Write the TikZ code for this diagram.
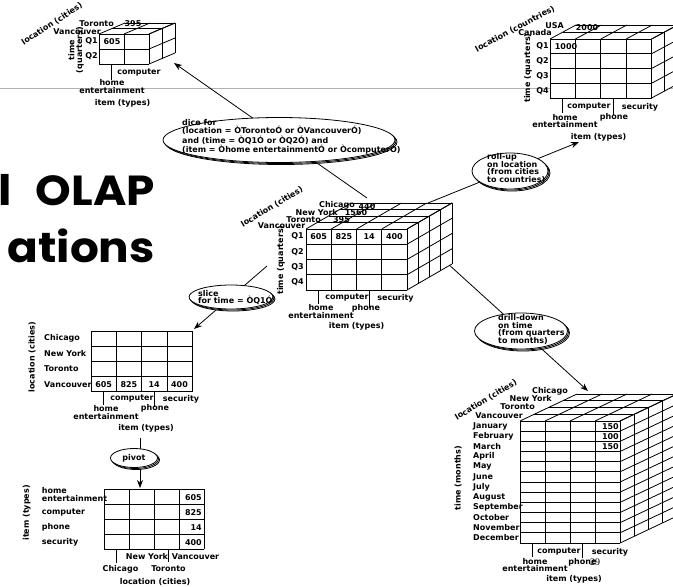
\documentclass[tikz,border=0pt]{standalone}
\usepackage{fontspec}
\setmainfont{DejaVu Sans}
\newfontfamily\titlefont{Poppins}[FakeStretch=1.08]
\newfontfamily\pagefont{Liberation Serif}
\usetikzlibrary{arrows.meta,shapes.geometric,shadows}

% front top-left (#1,#2), cell #3 x #4, #5 cols, #6 rows, #7 layers, layer shift (#8,-#9)
\newcommand{\olapcube}[9]{%
  \fill[white] (#1,#2+#6*#4) -- (#1,#2) -- ++(#7*#8,-#7*#9) -- ++(#5*#3,0) -- ++(0,#6*#4) -- (#1+#5*#3,#2+#6*#4) -- cycle;
  \foreach \i in {0,...,#5} {
    \draw[cubeline] (#1+\i*#3,#2) -- ++(0,#6*#4);
    \draw[cubeline] (#1+\i*#3,#2) -- ++(#7*#8,-#7*#9);
  }
  \foreach \j in {0,...,#6} {
    \draw[cubeline] (#1,#2+\j*#4) -- ++(#5*#3,0);
    \draw[cubeline] (#1+#5*#3,#2+\j*#4) -- ++(#7*#8,-#7*#9);
  }
  \foreach \k in {1,...,#7} {
    \draw[cubeline] (#1+\k*#8,#2-\k*#9) -- ++(#5*#3,0);
    \draw[cubeline] (#1+#5*#3+\k*#8,#2-\k*#9) -- ++(0,#6*#4);
  }
}
% flat table: top-left (#1,#2), cell #3 x #4, #5 cols, #6 rows
\newcommand{\olapgrid}[6]{%
  \fill[white] (#1,#2) rectangle ++(#5*#3,#6*#4);
  \foreach \i in {0,...,#5} \draw[cubeline] (#1+\i*#3,#2) -- ++(0,#6*#4);
  \foreach \j in {0,...,#6} \draw[cubeline] (#1,#2+\j*#4) -- ++(#5*#3,0);
}

\tikzset{
  cubeline/.style={line width=0.8pt},
  lbl/.style={font=\bfseries\fontsize{8}{7.8}\selectfont, inner sep=0pt},
  optext/.style={lbl, align=left, anchor=west},
  opbubble/.style={ellipse, draw, fill=white, line width=0.8pt, inner sep=0pt,
    general shadow={shadow xshift=2pt, shadow yshift=-2pt, draw, fill=white},
    general shadow={shadow xshift=1pt, shadow yshift=-1pt, draw, fill=white}},
  oparrow/.style={line width=0.8pt, -{Stealth[length=8pt,width=6pt]}},
  titletext/.style={font=\titlefont\bfseries\fontsize{42}{42}\selectfont, inner sep=0pt}
}

\begin{document}
\begin{tikzpicture}[x=1pt, y=-1pt]
\useasboundingbox (0,0) rectangle (673,587);
\fill[white] (0,0) rectangle (673,587);
\clip (0,0) rectangle (673,587);

% slide rule and cut title
\draw[gray!60, line width=0.8pt] (0,88) -- (673,88);
\node[titletext, anchor=base east] (titleA) at (155,205) {l\hskip 24pt OLAP};
\node[titletext, anchor=base east] (titleB) at (155,262) {ations};

% connectors (under the bubbles)
\coordinate (dicefrom) at (367,198);
\coordinate (diceto) at (174,63);
\coordinate (rollfrom) at (428,203);
\coordinate (rollto) at (579,142);
\coordinate (slicefrom) at (267,266);
\coordinate (sliceto) at (194,329);
\coordinate (drillfrom) at (447,263);
\coordinate (drillto) at (588,391);
\coordinate (pivotfrom) at (140,438);
\coordinate (pivotto) at (140,488);
\draw[oparrow] (dicefrom) -- (diceto);
\draw[oparrow] (rollfrom) -- (rollto);
\draw[oparrow] (slicefrom) -- (sliceto);
\draw[oparrow] (drillfrom) -- (drillto);
\draw[oparrow] (pivotfrom) -- (pivotto);

% diced cube
\olapcube{99}{34}{25}{15}{2}{2}{2}{13}{5.5}
\node[lbl, anchor=east] (dcTor) at (114,24) {Toronto};
\node[lbl] (dc395) at (133,24) {395};
\node[lbl, anchor=east] (dcVan) at (101,31.5) {Vancouver};
\node[lbl, anchor=east] (dcQ1) at (98,41.5) {Q1};
\node[lbl, anchor=east] (dcQ2) at (98,56.5) {Q2};
\node[lbl] (dc605) at (112,41.5) {605};
\node[lbl, rotate=90, align=center] (dcTime) at (76,50) {time\\(quarters)};
\node[lbl, rotate=33] (dcLoc) at (52,24) {location (cities)};
\draw[cubeline] (111.5,64) -- (111.5,80);
\node[lbl] (dcComp) at (139,73) {computer};
\node[lbl, align=center] (dcHome) at (112,86.5) {home\\entertainment};
\node[lbl] (dcItem) at (122.5,103) {item (types)};

% rolled-up cube
\olapcube{550}{39}{25.4}{14.75}{4}{4}{2}{13}{7}
\node[lbl, anchor=east] (ruUSA) at (564,26) {USA};
\node[lbl] (ru2000) at (587,28) {2000};
\node[lbl, anchor=east] (ruCan) at (552,33) {Canada};
\foreach \q [count=\j from 0] in {Q1,Q2,Q3,Q4}
  \node[lbl, anchor=east] (ruQ\j) at (549,46.4+\j*14.75) {\q};
\node[lbl] (ru1000) at (566,46.4) {1000};
\node[lbl, rotate=90] (ruTime) at (528,68) {time (quarters)};
\node[lbl, rotate=28] (ruLoc) at (515,29) {location (countries)};
\draw[cubeline] (562.7,98) -- (562.7,113);
\draw[cubeline] (613.5,98) -- (613.5,115);
\node[lbl] (ruComp) at (589,107) {computer};
\node[lbl] (ruSec) at (640,107) {security};
\node[lbl, align=center] (ruHome) at (565,121) {home\\entertainment};
\node[lbl] (ruPhone) at (614,117) {phone};
\node[lbl] (ruItem) at (598.5,137) {item (types)};

% central cube
\olapcube{306}{229}{25.25}{15.25}{4}{4}{4}{11.25}{6.5}
\node[lbl, anchor=east] (mcChi) at (355,205.5) {Chicago};
\node[lbl, anchor=east] (mcNY) at (338,212.5) {New York};
\node[lbl, anchor=east] (mcTor) at (321,219.5) {Toronto};
\node[lbl, anchor=east] (mcVan) at (305.5,226) {Vancouver};
\node[lbl] (mc440) at (367,206.5) {440};
\node[lbl] (mc1560) at (356,212.5) {1560};
\node[lbl] (mc395) at (341.5,219.5) {395};
\foreach \q [count=\j from 0] in {Q1,Q2,Q3,Q4}
  \node[lbl, anchor=east] (mcQ\j) at (304,236.6+\j*15.25) {\q};
\foreach \v [count=\i from 0] in {605,825,14,400}
  \node[lbl] (mcV\i) at (318.6+\i*25.25,236.6) {\v};
\node[lbl, rotate=90] (mcTime) at (281,260) {time (quarters)};
\node[lbl, rotate=31] (mcLoc) at (272,207) {location (cities)};
\draw[cubeline] (318.6,290) -- (318.6,303.5);
\draw[cubeline] (369.1,290) -- (369.1,308);
\node[lbl] (mcComp) at (347,298) {computer};
\node[lbl] (mcSec) at (395.5,298) {security};
\node[lbl, align=center] (mcHome) at (321,311.5) {home\\entertainment};
\node[lbl] (mcPhone) at (366,308) {phone};
\node[lbl] (mcItem) at (356.5,326) {item (types)};

% drilled-down cube
\olapcube{520}{421}{25}{10.17}{4}{12}{4}{14.25}{6.75}
\node[lbl, anchor=east] (ddChi) at (568,391) {Chicago};
\node[lbl, anchor=east] (ddNY) at (552,399) {New York};
\node[lbl, anchor=east] (ddTor) at (535,407) {Toronto};
\node[lbl, anchor=east] (ddVan) at (523,416) {Vancouver};
\foreach \m [count=\j from 0] in {January,February,March,April,May,June,July,August,September,October,November,December}
  \node[lbl, anchor=west] (ddM\j) at (473,426.1+\j*10.17) {\m};
\foreach \v [count=\j from 0] in {150,100,150}
  \node[lbl, anchor=east] (ddV\j) at (619,426.1+\j*10.17) {\v};
\node[lbl, rotate=90] (ddTime) at (458,478) {time (months)};
\node[lbl, rotate=31] (ddLoc) at (486,400) {location (cities)};
\draw[cubeline] (532.5,543) -- (532.5,557);
\draw[cubeline] (582.5,543) -- (582.5,558);
\node[lbl] (ddComp) at (559,552) {computer};
\node[lbl] (ddSec) at (610,552) {security};
\node[lbl, align=center] (ddHome) at (535,565) {home\\entertainment};
\node[lbl] (ddPhone) at (582.5,562) {phone};
\node[font=\pagefont\fontsize{10}{10}\selectfont, inner sep=0pt] (pagenum) at (595,562) {29};
\node[lbl] (ddItem) at (574,579) {item (types)};

% slice table
\olapgrid{91}{331}{25.3}{15.2}{4}{4}
\foreach \c [count=\j from 0] in {Chicago,New York,Toronto,Vancouver}
  \node[lbl, anchor=west] (slR\j) at (44,338.6+\j*15.2) {\c};
\foreach \v [count=\i from 0] in {605,825,14,400}
  \node[lbl] (slV\i) at (103.6+\i*25.3,384.2) {\v};
\node[lbl, rotate=90] (slLoc) at (32,357) {location (cities)};
\draw[cubeline] (103.6,392) -- (103.6,405);
\draw[cubeline] (154.2,392) -- (154.2,407);
\node[lbl] (slComp) at (132,399) {computer};
\node[lbl] (slSec) at (181,399) {security};
\node[lbl, align=center] (slHome) at (106,412.5) {home\\entertainment};
\node[lbl] (slPhone) at (155,408) {phone};
\node[lbl] (slItem) at (146,428) {item (types)};

% pivoted table
\olapgrid{104}{489.3}{25}{15}{4}{4}
\node[lbl, anchor=west, align=left] (pvR0) at (41.7,494.5) {home\\entertainment};
\node[lbl, anchor=west] (pvR1) at (41.7,512.3) {computer};
\node[lbl, anchor=west] (pvR2) at (41.7,527.3) {phone};
\node[lbl, anchor=west] (pvR3) at (41.7,542.3) {security};
\foreach \v [count=\j from 0] in {605,825,14,400}
  \node[lbl, anchor=east] (pvV\j) at (202,497.3+\j*15) {\v};
\node[lbl, rotate=90] (pvItem) at (26.7,513) {item (types)};
\draw[cubeline] (116.5,549.3) -- (116.5,563);
\draw[cubeline] (168,549.3) -- (168,562);
\node[lbl] (pvNY) at (147,557) {New York};
\node[lbl] (pvVan) at (195.5,557) {Vancouver};
\node[lbl] (pvChi) at (120.5,569) {Chicago};
\node[lbl] (pvTor) at (168.5,569) {Toronto};
\node[lbl] (pvLoc) at (155,582) {location (cities)};

% operation bubbles
\node[opbubble, minimum width=232pt, minimum height=45pt] (dice) at (279,140) {};
\node[optext] (dicetext) at (182,137) {dice for\\(location = ÒTorontoÓ or ÒVancouverÓ)\\and (time = ÒQ1Ó or ÒQ2Ó) and\\(item = Òhome entertainmentÓ or ÒcomputerÓ)};
\node[opbubble, minimum width=76pt, minimum height=36pt] (rollup) at (510,171) {};
\node[optext] (rolluptext) at (487,168.5) {roll-up\\on location\\(from cities\\to countries)};
\node[opbubble, minimum width=84pt, minimum height=24pt] (slice) at (231,297) {};
\node[optext] (slicetext) at (198,297.5) {slice\\for time = ÒQ1Ó};
\node[opbubble, minimum width=93pt, minimum height=36pt] (drill) at (521,331) {};
\node[optext] (drilltext) at (498,329.5) {drill-down\\on time\\(from quarters\\to months)};
\node[opbubble, lbl, minimum width=47pt, minimum height=19pt] (pivot) at (134,458) {pivot};
\end{tikzpicture}
\end{document}
